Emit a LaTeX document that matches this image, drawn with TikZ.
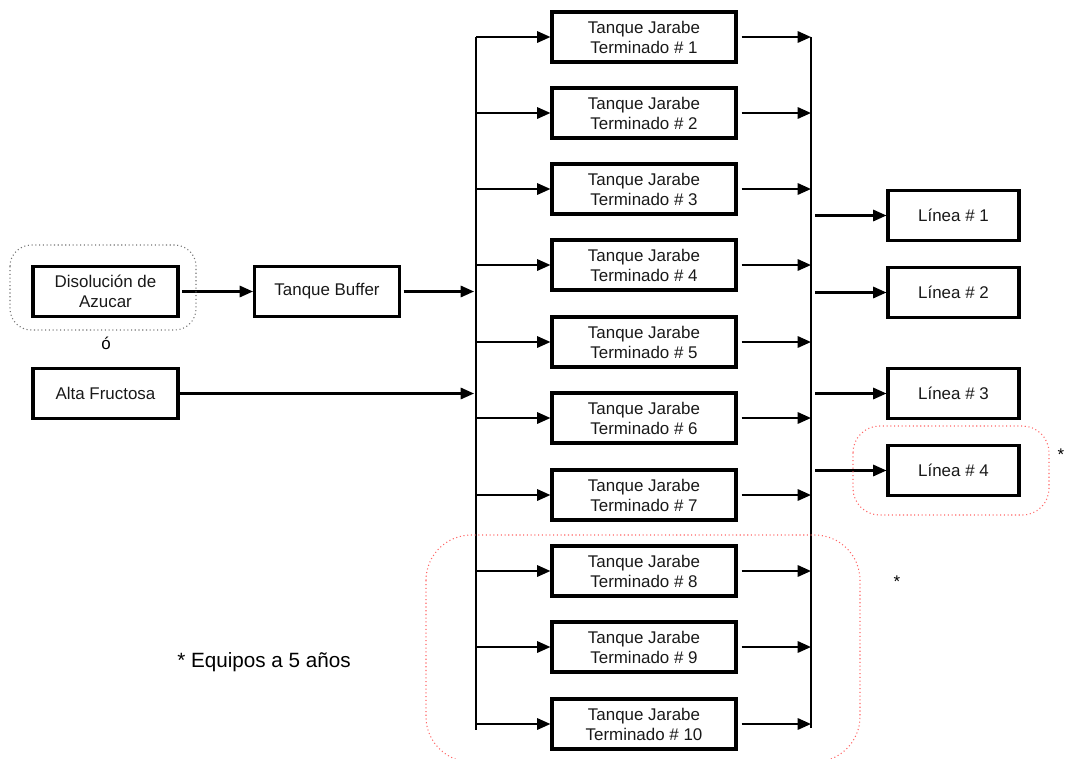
\documentclass[tikz,border=0pt]{standalone}
\usepackage{fontspec}
\setmainfont{Liberation Sans}
\usetikzlibrary{arrows.meta}
\begin{document}
\begin{tikzpicture}[x=0.75pt,y=-0.75pt,
  font=\fontsize{12.7}{15}\selectfont,
  box/.style={draw, line width=2.3pt, align=center, inner sep=0pt, text=black!90},
  tankbox/.style={box, minimum width=138pt, minimum height=37.5pt},
  srcbox/.style={box, minimum width=108.75pt, minimum height=38pt},
  linebox/.style={box, minimum width=98.25pt, minimum height=38pt},
  flow/.style={line width=1.6pt, -{Triangle[length=10pt, width=8.5pt]}},
  bus/.style={line width=1.2pt},
  grp/.style={dotted, rounded corners=16pt, line width=0.8pt}]

\useasboundingbox (0,0) rectangle (1065,758);

% feed sources and buffer tank
\node[srcbox] (dis) at (105.5,291.5) {Disolución de\\Azucar};
\node[srcbox] (buf) at (327,291.5) {Tanque Buffer};
\node[srcbox] (alta) at (105.5,393.5) {Alta Fructosa};
\node (o) at (106,343) {ó};

% distribution and collection headers
\coordinate (lt) at (476,37);
\coordinate (lb) at (476,730);
\coordinate (rt) at (811,37);
\coordinate (rb) at (811,728);
\draw[bus] (lt) -- (lb);
\draw[bus] (rt) -- (rb);

% finished syrup tanks
\foreach \i/\y in {1/37,2/113,3/189,4/265,5/342,6/418,7/495,8/571,9/647,10/724}{
  \node[tankbox] (t\i) at (644,\y) {Tanque Jarabe\\Terminado \# \i};
  \coordinate (in\i) at (476,\y);
  \coordinate (out\i) at (811,\y);
  \draw[flow] (in\i) -- (t\i.west);
  \draw[flow] ([xshift=3pt]t\i.east) -- (out\i);
}

% filling lines
\foreach \i/\y in {1/215.5,2/292.5,3/393.5,4/470.5}{
  \node[linebox] (ln\i) at (953.5,\y) {Línea \# \i};
  \coordinate (src\i) at (815,\y);
  \draw[flow] (src\i) -- (ln\i.west);
}

% feed connections
\coordinate (bufin) at (474,291.5);
\coordinate (altain) at (474,393.5);
\draw[flow] ([xshift=2pt]dis.east) -- (buf.west);
\draw[flow] ([xshift=2pt]buf.east) -- (bufin);
\draw[flow] (alta.east) -- (altain);

% groupings
\draw[grp, black!55] (10,245) rectangle (196,330);
\draw[grp, red!60, rounded corners=20pt] (853,426) rectangle (1049,515);
\draw[grp, red!60, rounded corners=34pt] (426,535) rectangle (860,762);
\node (s1) at (1061,455) {*};
\node (s2) at (897,582) {*};
\node[font=\fontsize{15.5}{18}\selectfont] (note) at (264,662) {* Equipos a 5 años};
\end{tikzpicture}
\end{document}
